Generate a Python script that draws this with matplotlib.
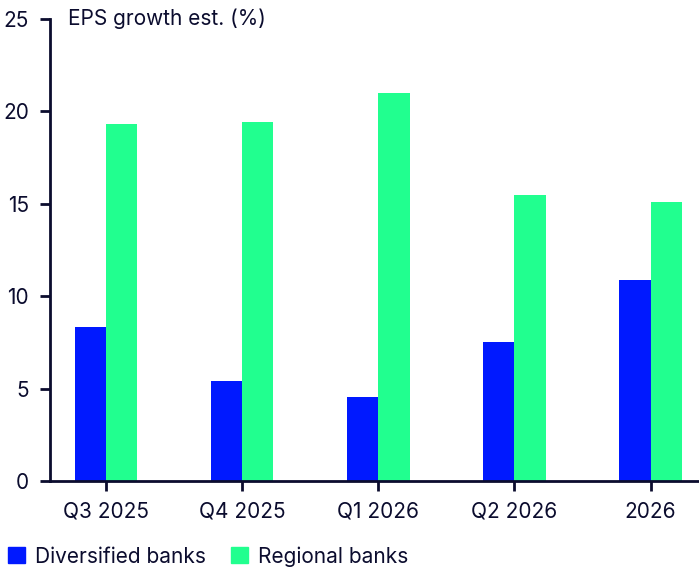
import matplotlib.pyplot as plt
import numpy as np
from matplotlib.patches import Patch

categories = ['Q3 2025', 'Q4 2025', 'Q1 2026', 'Q2 2026', '2026']
diversified = [8.35, 5.4, 4.55, 7.5, 10.9]
regional = [19.3, 19.4, 21.0, 15.45, 15.1]

BLUE = '#0019ff'
GREEN = '#21ff8f'
NAVY = '#0b0c2e'

plt.rcParams['font.family'] = ['Inter', 'DejaVu Sans']
plt.rcParams['font.size'] = 15

fig = plt.figure(figsize=(6.99, 5.67), dpi=100)
ax = fig.add_axes([50 / 699, 86 / 567, 649 / 699, 462 / 567])

x = np.arange(len(categories))
w = 0.23
ax.bar(x - w / 2, diversified, w, color=BLUE)
ax.bar(x + w / 2, regional, w, color=GREEN)

ax.set_xlim(-0.41, len(categories) - 1 + 0.355)
ax.set_ylim(0, 25)
ax.set_yticks([0, 5, 10, 15, 20, 25])
ax.set_xticks(x)
ax.set_xticklabels(categories)

for s in ['top', 'right']:
    ax.spines[s].set_visible(False)
for s in ['left', 'bottom']:
    ax.spines[s].set_color(NAVY)
    ax.spines[s].set_linewidth(2)
ax.tick_params(axis='y', colors=NAVY, length=7, width=2, pad=8, labelsize=15)
ax.tick_params(axis='x', colors=NAVY, length=7, width=2, pad=8, labelsize=15)

ax.text(18 / 649, 1.0, 'EPS growth est. (%)', transform=ax.transAxes,
        ha='left', va='center', color=NAVY, fontsize=15)

handles = [Patch(color=BLUE, label='Diversified banks'),
           Patch(color=GREEN, label='Regional banks')]
fig.legend(handles=handles, loc='lower left', bbox_to_anchor=(0.0, -0.014),
           ncol=2, frameon=False, fontsize=15, handlelength=0.8,
           handleheight=0.8, handletextpad=0.5, columnspacing=1.2,
           labelcolor=NAVY, borderaxespad=0.0)

fig.savefig('out.png', dpi=100)
